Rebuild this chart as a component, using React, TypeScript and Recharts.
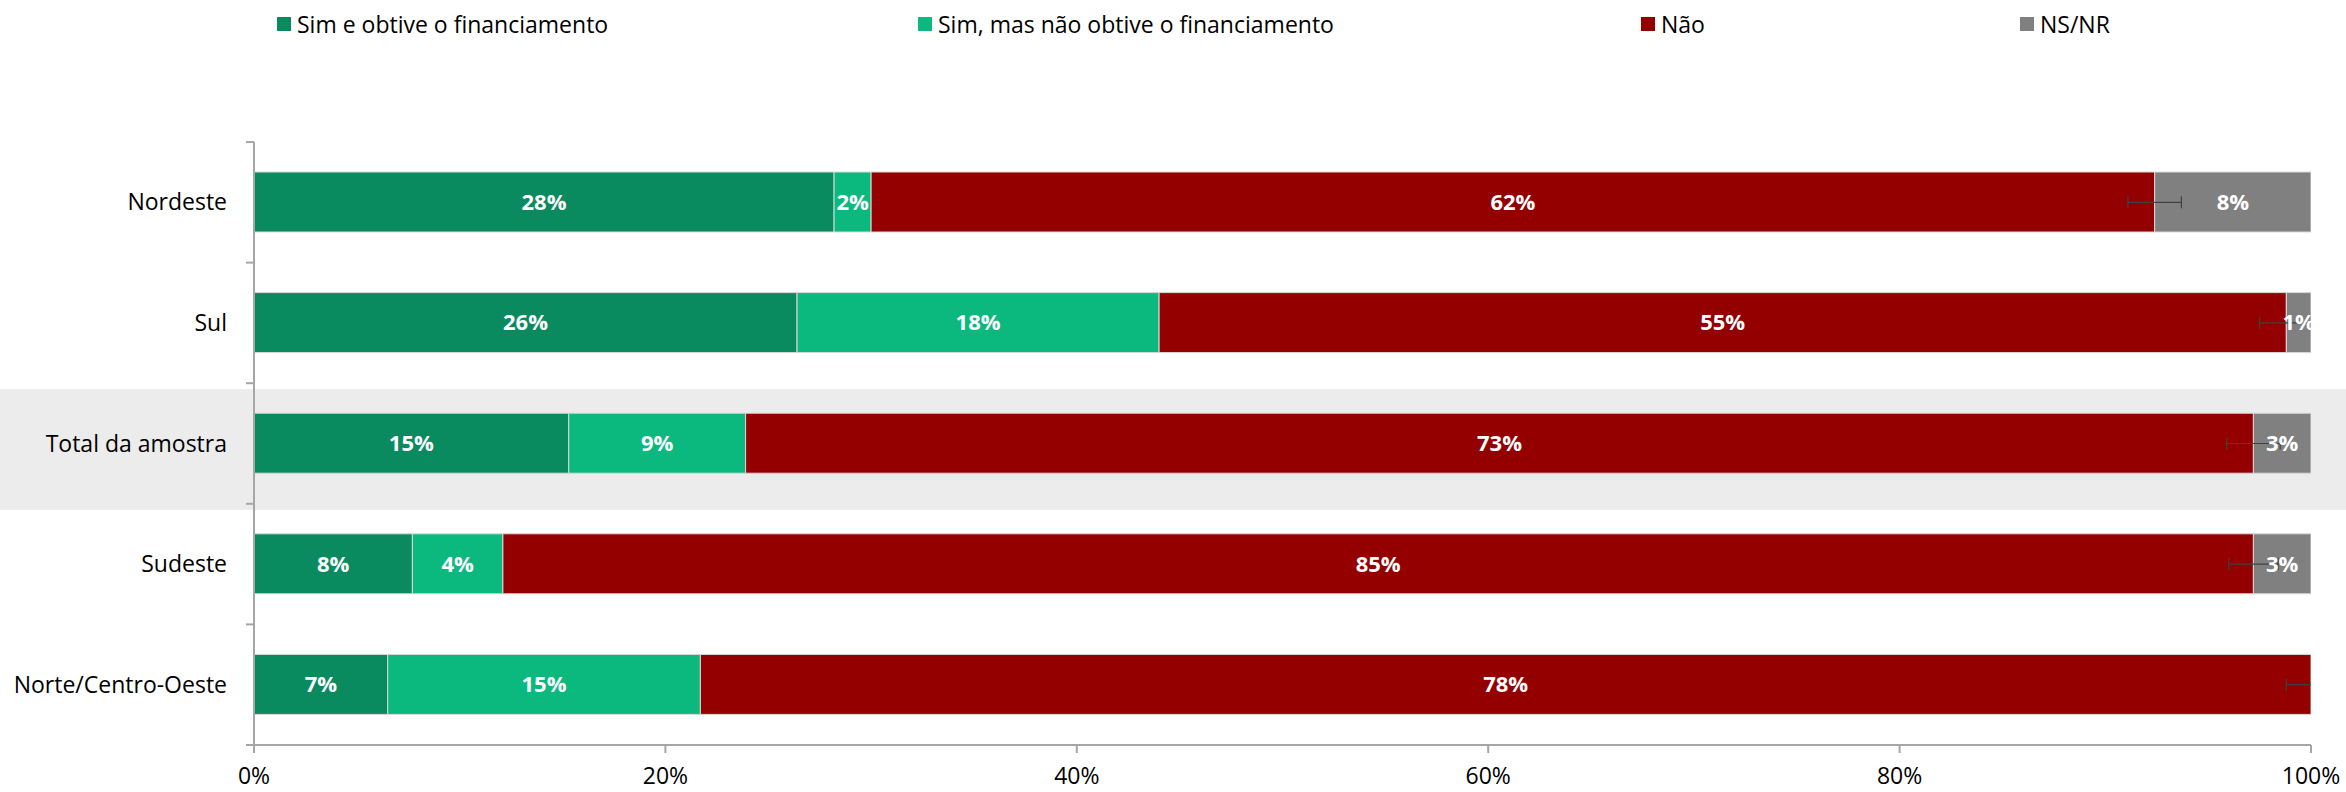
import React from 'react';
import {
  ComposedChart,
  Bar,
  XAxis,
  YAxis,
  Line,
  ErrorBar,
  LabelList,
  ReferenceArea,
  Legend,
} from 'recharts';

// ---------- data ----------
const regions = ['Nordeste', 'Sul', 'Total da amostra', 'Sudeste', 'Norte/Centro-Oeste'];
const simObtive = [28.2, 26.4, 15.3, 7.7, 6.5];
const simNaoObtive = [1.8, 17.6, 8.6, 4.4, 15.2];
const nao = [62.4, 54.8, 73.3, 85.1, 78.3];
const nsnr = [7.6, 1.2, 2.8, 2.8, 0];
const naoError = [1.3, 1.3, 1.3, 1.2, 1.2];
const xTicks = [0, 20, 40, 60, 80, 100];
const seriesNames = [
  'Sim e obtive o financiamento',
  'Sim, mas não obtive o financiamento',
  'Não',
  'NS/NR',
];
const highlighted = 'Total da amostra';

// ---------- styles ----------
const colors = ['#0A8A5F', '#0BB97F', '#940000', '#808080'];
const seriesKeys = ['s1', 's2', 's3', 's4'];
const legendLeft = [277, 918, 1641, 2020];
const W = 2346;
const H = 792;
const M = { top: 142, right: 35, left: 0, bottom: 0 };
const XAXIS_H = 47;
const YAXIS_W = 254;
const FONT = "'Open Sans', sans-serif";
const axisColor = '#A6A6A6';

const rows = regions.map((r, i) => ({
  region: r,
  s1: simObtive[i],
  s2: simNaoObtive[i],
  s3: nao[i],
  s4: nsnr[i],
  naoEnd: simObtive[i] + simNaoObtive[i] + nao[i],
  naoErr: naoError[i],
}));

const fmt = (v: any) => (Number(v) > 0 ? `${Math.round(Number(v))}%` : '');

const renderLegend = () => (
  <div style={{ position: 'relative', width: W, height: 50, fontFamily: FONT }}>
    {seriesNames.map((name, i) => (
      <div
        key={name}
        style={{
          position: 'absolute',
          left: legendLeft[i],
          top: 8,
          height: 32,
          display: 'flex',
          alignItems: 'center',
          whiteSpace: 'nowrap',
          fontSize: 23,
          color: '#000',
        }}
      >
        <span
          style={{
            display: 'inline-block',
            width: 14,
            height: 14,
            background: colors[i],
            marginRight: 6,
          }}
        />
        {name}
      </div>
    ))}
  </div>
);

const bandShape = (p: any) => (
  <rect x={0} y={p.y + 6} width={W} height={p.height} fill="#ECECEC" />
);

// Category tick: label at band centre, tick marks at band boundaries (Excel style)
const CategoryTick = (props: any) => {
  const { x, y, payload, index } = props;
  const fallbackHalf = (H - M.top - M.bottom - XAXIS_H) / regions.length / 2;
  const half = payload && typeof payload.offset === 'number' && payload.offset > 0 ? payload.offset : fallbackHalf;
  const isLast = index === regions.length - 1;
  return (
    <g>
      <line
        x1={YAXIS_W - 8}
        x2={YAXIS_W}
        y1={y - half}
        y2={y - half}
        stroke={axisColor}
        strokeWidth={2}
      />
      {isLast && (
        <line
          x1={YAXIS_W - 8}
          x2={YAXIS_W}
          y1={y + half}
          y2={y + half}
          stroke={axisColor}
          strokeWidth={2}
        />
      )}
      <text x={x} y={y} dy="0.355em" textAnchor="end" fill="#000" fontSize={23} fontFamily={FONT}>
        {payload.value}
      </text>
    </g>
  );
};

export default function App() {
  return (
    <div style={{ position: 'absolute', left: 0, top: 0, width: W, height: H, fontFamily: FONT }}>
      <ComposedChart
        width={W}
        height={H}
        data={rows}
        layout="vertical"
        margin={M}
        style={{ fontFamily: FONT }}
      >
        <defs>
          <clipPath id="plotClipErr">
            <rect x={0} y={0} width={W - M.right} height={H} />
          </clipPath>
        </defs>
        <Legend
          layout="vertical"
          align="center"
          verticalAlign="middle"
          wrapperStyle={{ top: 0, left: 0, width: W, height: 50 }}
          content={renderLegend}
        />
        <XAxis
          type="number"
          domain={[0, 100]}
          allowDataOverflow
          ticks={xTicks}
          tickFormatter={(v) => `${v}%`}
          axisLine={{ stroke: axisColor, strokeWidth: 2 }}
          tickLine={{ stroke: axisColor, strokeWidth: 2 }}
          tickSize={8}
          tickMargin={15}
          tick={{ fill: '#000', fontSize: 23 }}
          height={XAXIS_H}
          interval={0}
        />
        <YAxis
          yAxisId="cat"
          type="category"
          dataKey="region"
          width={YAXIS_W}
          axisLine={{ stroke: axisColor, strokeWidth: 2 }}
          tickLine={false}
          tickSize={8}
          tickMargin={19}
          tick={<CategoryTick />}
          interval={0}
        />
        <ReferenceArea
          yAxisId="cat"
          y1={highlighted}
          y2={highlighted}
          ifOverflow="visible"
          shape={bandShape}
        />
        {seriesKeys.map((k, i) => (
          <Bar
            key={k}
            yAxisId="cat"
            dataKey={k}
            name={seriesNames[i]}
            stackId="a"
            fill={colors[i]}
            stroke="#D9D9D9"
            strokeWidth={1}
            barSize={60}
            isAnimationActive={false}
          >
            <LabelList
              dataKey={k}
              position="center"
              fill="#FFFFFF"
              fontSize={22}
              fontWeight={700}
              formatter={fmt}
            />
          </Bar>
        ))}
        <Line
          yAxisId="cat"
          dataKey="naoEnd"
          stroke="none"
          dot={false}
          activeDot={false}
          legendType="none"
          isAnimationActive={false}
        >
          <ErrorBar
            dataKey="naoErr"
            direction="x"
            width={6}
            stroke="#404040"
            strokeWidth={1.2}
            clipPath="url(#plotClipErr)"
          />
        </Line>
      </ComposedChart>
    </div>
  );
}
